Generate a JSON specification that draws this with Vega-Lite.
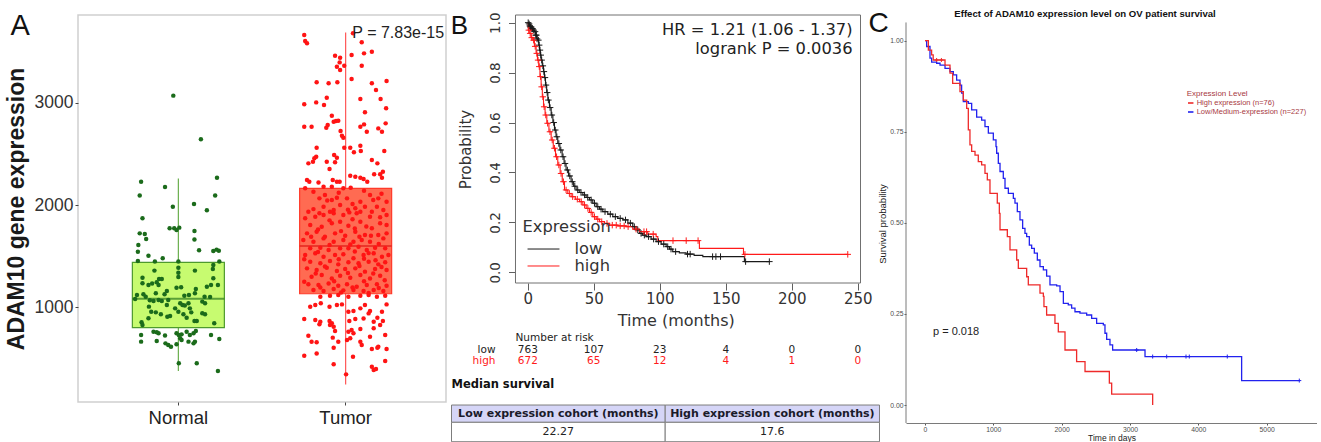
{
"$schema":"https://vega.github.io/schema/vega-lite/v6.json",
"background":"white",
"padding":{"left":4,"top":8,"right":0,"bottom":0},
"bounds":"flush",
"spacing":45,
"config":{"view":{"stroke":null},"axis":{"grid":false}},
"resolve":{"scale":{"color":"independent","stroke":"independent","fill":"independent"},"legend":{"color":"independent"}},
"datasets":{
"boxA":[{"g":"Normal","lo":378,"q1":801,"med":1085,"q3":1440,"hi":2260},{"g":"Tumor","lo":247,"q1":1133,"med":1599,"q3":2163,"hi":3687}],
"ptsA":[
{"g":"Normal","j":-0.11,"v":3069},{"g":"Normal","j":0.49,"v":2642},{"g":"Normal","j":-0.81,"v":2228},{"g":"Normal","j":0.84,"v":2267},{"g":"Normal","j":-0.29,"v":2176},{"g":"Normal","j":-0.84,"v":2092},{"g":"Normal","j":0.8,"v":2092},{"g":"Normal","j":-0.12,"v":1984},{"g":"Normal","j":0.34,"v":2010},{"g":"Normal","j":0.62,"v":1948},{"g":"Normal","j":-0.78,"v":1870},{"g":"Normal","j":-0.19,"v":1772},{"g":"Normal","j":-0.09,"v":1772},{"g":"Normal","j":-0.04,"v":1756},{"g":"Normal","j":0.02,"v":1779},{"g":"Normal","j":-0.84,"v":1723},{"g":"Normal","j":-0.73,"v":1717},{"g":"Normal","j":-0.7,"v":1668},{"g":"Normal","j":0.35,"v":1746},{"g":"Normal","j":0.35,"v":1662},{"g":"Normal","j":-0.87,"v":1609},{"g":"Normal","j":-0.88,"v":1544},{"g":"Normal","j":-0.65,"v":1505},{"g":"Normal","j":0.45,"v":1557},{"g":"Normal","j":0.76,"v":1551},{"g":"Normal","j":0.83,"v":1564},{"g":"Normal","j":0.88,"v":1554},{"g":"Normal","j":-0.34,"v":1479},{"g":"Normal","j":-0.88,"v":1453},{"g":"Normal","j":-0.51,"v":1447},{"g":"Normal","j":0,"v":1447},{"g":"Normal","j":0.89,"v":1447},{"g":"Normal","j":0.76,"v":1414},{"g":"Normal","j":0.75,"v":1375},{"g":"Normal","j":0,"v":1388},{"g":"Normal","j":-0.52,"v":1359},{"g":"Normal","j":-0.78,"v":1290},{"g":"Normal","j":-0.42,"v":1277},{"g":"Normal","j":-0.36,"v":1277},{"g":"Normal","j":0,"v":1339},{"g":"Normal","j":0,"v":1297},{"g":"Normal","j":0.36,"v":1359},{"g":"Normal","j":0.76,"v":1284},{"g":"Normal","j":-0.78,"v":1235},{"g":"Normal","j":-0.65,"v":1218},{"g":"Normal","j":-0.57,"v":1232},{"g":"Normal","j":-0.47,"v":1245},{"g":"Normal","j":-0.43,"v":1218},{"g":"Normal","j":-0.04,"v":1192},{"g":"Normal","j":0.06,"v":1196},{"g":"Normal","j":0.62,"v":1202},{"g":"Normal","j":0.71,"v":1218},{"g":"Normal","j":0.86,"v":1218},{"g":"Normal","j":0.38,"v":1179},{"g":"Normal","j":0.36,"v":1137},{"g":"Normal","j":-0.9,"v":1121},{"g":"Normal","j":-0.76,"v":1127},{"g":"Normal","j":-0.71,"v":1104},{"g":"Normal","j":-0.49,"v":1137},{"g":"Normal","j":-0.3,"v":1127},{"g":"Normal","j":-0.25,"v":1160},{"g":"Normal","j":0.13,"v":1114},{"g":"Normal","j":0.23,"v":1121},{"g":"Normal","j":0.57,"v":1104},{"g":"Normal","j":0.69,"v":1101},{"g":"Normal","j":-0.62,"v":1069},{"g":"Normal","j":-0.54,"v":1062},{"g":"Normal","j":-0.43,"v":1072},{"g":"Normal","j":-0.36,"v":1062},{"g":"Normal","j":-0.22,"v":1072},{"g":"Normal","j":-0.94,"v":1082},{"g":"Normal","j":0.52,"v":1056},{"g":"Normal","j":0.58,"v":1039},{"g":"Normal","j":0.04,"v":1039},{"g":"Normal","j":0.09,"v":1023},{"g":"Normal","j":0.14,"v":1017},{"g":"Normal","j":0.22,"v":1039},{"g":"Normal","j":-0.64,"v":1007},{"g":"Normal","j":-0.59,"v":958},{"g":"Normal","j":-0.25,"v":1023},{"g":"Normal","j":-0.07,"v":990},{"g":"Normal","j":0,"v":958},{"g":"Normal","j":0.25,"v":990},{"g":"Normal","j":0.28,"v":951},{"g":"Normal","j":-0.49,"v":951},{"g":"Normal","j":-0.38,"v":932},{"g":"Normal","j":0.52,"v":942},{"g":"Normal","j":0.58,"v":932},{"g":"Normal","j":-0.24,"v":909},{"g":"Normal","j":-0.18,"v":915},{"g":"Normal","j":-0.65,"v":893},{"g":"Normal","j":0.11,"v":932},{"g":"Normal","j":0.18,"v":899},{"g":"Normal","j":0.35,"v":867},{"g":"Normal","j":0.4,"v":867},{"g":"Normal","j":-0.8,"v":854},{"g":"Normal","j":-0.78,"v":828},{"g":"Normal","j":0.78,"v":844},{"g":"Normal","j":-0.54,"v":762},{"g":"Normal","j":-0.47,"v":756},{"g":"Normal","j":-0.43,"v":746},{"g":"Normal","j":-0.81,"v":730},{"g":"Normal","j":-0.29,"v":724},{"g":"Normal","j":-0.04,"v":746},{"g":"Normal","j":0.01,"v":730},{"g":"Normal","j":0.07,"v":736},{"g":"Normal","j":0.04,"v":697},{"g":"Normal","j":0.18,"v":762},{"g":"Normal","j":0.25,"v":730},{"g":"Normal","j":0.33,"v":746},{"g":"Normal","j":0.38,"v":769},{"g":"Normal","j":0.71,"v":730},{"g":"Normal","j":-0.81,"v":665},{"g":"Normal","j":-0.47,"v":671},{"g":"Normal","j":-0.28,"v":648},{"g":"Normal","j":-0.22,"v":632},{"g":"Normal","j":-0.16,"v":616},{"g":"Normal","j":-0.04,"v":639},{"g":"Normal","j":0.07,"v":681},{"g":"Normal","j":0.22,"v":665},{"g":"Normal","j":0.33,"v":648},{"g":"Normal","j":0.36,"v":665},{"g":"Normal","j":0.89,"v":691},{"g":"Normal","j":0.01,"v":453},{"g":"Normal","j":0.4,"v":453},{"g":"Normal","j":0.86,"v":378},
{"g":"Tumor","j":-0.9,"v":3661},{"g":"Tumor","j":-0.88,"v":3603},{"g":"Tumor","j":-0.84,"v":3580},{"g":"Tumor","j":0.16,"v":3678},{"g":"Tumor","j":0.35,"v":3590},{"g":"Tumor","j":-0.23,"v":3459},{"g":"Tumor","j":-0.12,"v":3440},{"g":"Tumor","j":0.13,"v":3466},{"g":"Tumor","j":0.4,"v":3482},{"g":"Tumor","j":0.57,"v":3498},{"g":"Tumor","j":-0.13,"v":3394},{"g":"Tumor","j":-0.19,"v":3352},{"g":"Tumor","j":-0.12,"v":3319},{"g":"Tumor","j":-0.03,"v":3362},{"g":"Tumor","j":0.35,"v":3362},{"g":"Tumor","j":-0.63,"v":3199},{"g":"Tumor","j":-0.37,"v":3189},{"g":"Tumor","j":-0.18,"v":3199},{"g":"Tumor","j":0.13,"v":3231},{"g":"Tumor","j":0.57,"v":3189},{"g":"Tumor","j":0.89,"v":3212},{"g":"Tumor","j":0.66,"v":3124},{"g":"Tumor","j":-0.41,"v":3049},{"g":"Tumor","j":-0.47,"v":2977},{"g":"Tumor","j":-0.64,"v":3003},{"g":"Tumor","j":-0.9,"v":2984},{"g":"Tumor","j":0.32,"v":3036},{"g":"Tumor","j":0.76,"v":3036},{"g":"Tumor","j":0.88,"v":2945},{"g":"Tumor","j":0.42,"v":2906},{"g":"Tumor","j":-0.3,"v":2873},{"g":"Tumor","j":-0.26,"v":2814},{"g":"Tumor","j":-0.21,"v":2821},{"g":"Tumor","j":-0.16,"v":2824},{"g":"Tumor","j":-0.39,"v":2782},{"g":"Tumor","j":-0.42,"v":2756},{"g":"Tumor","j":-0.9,"v":2765},{"g":"Tumor","j":-0.74,"v":2765},{"g":"Tumor","j":0.32,"v":2765},{"g":"Tumor","j":0.4,"v":2788},{"g":"Tumor","j":0.46,"v":2717},{"g":"Tumor","j":0.71,"v":2749},{"g":"Tumor","j":0.79,"v":2717},{"g":"Tumor","j":0.87,"v":2798},{"g":"Tumor","j":-0.11,"v":2723},{"g":"Tumor","j":-0.08,"v":2678},{"g":"Tumor","j":-0.05,"v":2658},{"g":"Tumor","j":-0.03,"v":2560},{"g":"Tumor","j":0.1,"v":2560},{"g":"Tumor","j":0.18,"v":2515},{"g":"Tumor","j":0.32,"v":2580},{"g":"Tumor","j":0.33,"v":2528},{"g":"Tumor","j":-0.63,"v":2560},{"g":"Tumor","j":-0.64,"v":2472},{"g":"Tumor","j":-0.68,"v":2456},{"g":"Tumor","j":-0.71,"v":2423},{"g":"Tumor","j":-0.25,"v":2489},{"g":"Tumor","j":-0.19,"v":2463},{"g":"Tumor","j":-0.23,"v":2417},{"g":"Tumor","j":-0.41,"v":2423},{"g":"Tumor","j":-0.35,"v":2352},{"g":"Tumor","j":-0.81,"v":2407},{"g":"Tumor","j":0.57,"v":2440},{"g":"Tumor","j":0.69,"v":2407},{"g":"Tumor","j":0.84,"v":2528},{"g":"Tumor","j":0.1,"v":2287},{"g":"Tumor","j":0.21,"v":2277},{"g":"Tumor","j":0.32,"v":2267},{"g":"Tumor","j":0.39,"v":2254},{"g":"Tumor","j":0.47,"v":2228},{"g":"Tumor","j":0.75,"v":2300},{"g":"Tumor","j":0.81,"v":2326},{"g":"Tumor","j":0.79,"v":2267},{"g":"Tumor","j":0.62,"v":2300},{"g":"Tumor","j":-0.84,"v":2244},{"g":"Tumor","j":-0.79,"v":2228},{"g":"Tumor","j":-0.59,"v":2221},{"g":"Tumor","j":-0.28,"v":2244},{"g":"Tumor","j":-0.19,"v":2228},{"g":"Tumor","j":-0.13,"v":2228},{"g":"Tumor","j":-0.88,"v":2163},{"g":"Tumor","j":-0.48,"v":2179},{"g":"Tumor","j":-0.3,"v":2179},{"g":"Tumor","j":-0.05,"v":2163},{"g":"Tumor","j":0.11,"v":2169},{"g":"Tumor","j":-0.57,"v":2065},{"g":"Tumor","j":-0.45,"v":2098},{"g":"Tumor","j":-0.3,"v":2049},{"g":"Tumor","j":-0.19,"v":2072},{"g":"Tumor","j":0.03,"v":2065},{"g":"Tumor","j":0.32,"v":2032},{"g":"Tumor","j":0.53,"v":2098},{"g":"Tumor","j":0.71,"v":2065},{"g":"Tumor","j":0.89,"v":2032},{"g":"Tumor","j":-0.48,"v":1984},{"g":"Tumor","j":-0.26,"v":1951},{"g":"Tumor","j":-0.12,"v":2000},{"g":"Tumor","j":0.21,"v":1968},{"g":"Tumor","j":0.42,"v":1984},{"g":"Tumor","j":0.68,"v":1984},{"g":"Tumor","j":-0.81,"v":1935},{"g":"Tumor","j":-0.57,"v":1919},{"g":"Tumor","j":-0.34,"v":1935},{"g":"Tumor","j":0.08,"v":1928},{"g":"Tumor","j":0.32,"v":1935},{"g":"Tumor","j":0.57,"v":1935},{"g":"Tumor","j":0.82,"v":1951},
{"g":"Tumor","j":-0.88,"v":1870},{"g":"Tumor","j":-0.66,"v":1886},{"g":"Tumor","j":-0.48,"v":1902},{"g":"Tumor","j":-0.26,"v":1919},{"g":"Tumor","j":-0.05,"v":1902},{"g":"Tumor","j":0.24,"v":1919},{"g":"Tumor","j":0.53,"v":1886},{"g":"Tumor","j":0.89,"v":1902},{"g":"Tumor","j":-0.77,"v":1805},{"g":"Tumor","j":-0.52,"v":1788},{"g":"Tumor","j":-0.3,"v":1821},{"g":"Tumor","j":-0.12,"v":1837},{"g":"Tumor","j":0.06,"v":1798},{"g":"Tumor","j":0.32,"v":1837},{"g":"Tumor","j":0.57,"v":1772},{"g":"Tumor","j":0.75,"v":1821},{"g":"Tumor","j":0.89,"v":1805},{"g":"Tumor","j":-0.84,"v":1723},{"g":"Tumor","j":-0.63,"v":1739},{"g":"Tumor","j":-0.45,"v":1691},{"g":"Tumor","j":-0.23,"v":1723},{"g":"Tumor","j":-0.01,"v":1700},{"g":"Tumor","j":0.21,"v":1739},{"g":"Tumor","j":0.42,"v":1707},{"g":"Tumor","j":0.71,"v":1707},{"g":"Tumor","j":0.89,"v":1723},{"g":"Tumor","j":-0.92,"v":1658},{"g":"Tumor","j":-0.7,"v":1642},{"g":"Tumor","j":-0.48,"v":1674},{"g":"Tumor","j":-0.26,"v":1642},{"g":"Tumor","j":-0.05,"v":1658},{"g":"Tumor","j":0.17,"v":1642},{"g":"Tumor","j":0.35,"v":1658},{"g":"Tumor","j":0.53,"v":1642},{"g":"Tumor","j":0.82,"v":1674},{"g":"Tumor","j":-0.77,"v":1577},{"g":"Tumor","j":-0.55,"v":1583},{"g":"Tumor","j":-0.37,"v":1560},{"g":"Tumor","j":-0.12,"v":1577},{"g":"Tumor","j":0.06,"v":1577},{"g":"Tumor","j":0.28,"v":1593},{"g":"Tumor","j":0.46,"v":1560},{"g":"Tumor","j":0.64,"v":1583},{"g":"Tumor","j":0.86,"v":1577},{"g":"Tumor","j":-0.88,"v":1511},{"g":"Tumor","j":-0.66,"v":1528},{"g":"Tumor","j":-0.48,"v":1495},{"g":"Tumor","j":-0.23,"v":1511},{"g":"Tumor","j":-0.05,"v":1518},{"g":"Tumor","j":0.17,"v":1479},{"g":"Tumor","j":0.39,"v":1511},{"g":"Tumor","j":0.61,"v":1528},{"g":"Tumor","j":0.79,"v":1495},{"g":"Tumor","j":0.93,"v":1511},{"g":"Tumor","j":-0.77,"v":1446},{"g":"Tumor","j":-0.55,"v":1430},{"g":"Tumor","j":-0.34,"v":1453},{"g":"Tumor","j":-0.16,"v":1420},{"g":"Tumor","j":0.06,"v":1440},{"g":"Tumor","j":0.28,"v":1430},{"g":"Tumor","j":0.5,"v":1446},{"g":"Tumor","j":0.71,"v":1420},{"g":"Tumor","j":0.86,"v":1440},{"g":"Tumor","j":-0.84,"v":1381},{"g":"Tumor","j":-0.63,"v":1365},{"g":"Tumor","j":-0.41,"v":1388},{"g":"Tumor","j":-0.19,"v":1355},{"g":"Tumor","j":-0.01,"v":1375},{"g":"Tumor","j":0.21,"v":1381},{"g":"Tumor","j":0.42,"v":1349},{"g":"Tumor","j":0.64,"v":1375},{"g":"Tumor","j":0.89,"v":1365},{"g":"Tumor","j":-0.74,"v":1300},{"g":"Tumor","j":-0.52,"v":1316},{"g":"Tumor","j":-0.3,"v":1283},{"g":"Tumor","j":-0.12,"v":1309},{"g":"Tumor","j":0.1,"v":1290},{"g":"Tumor","j":0.32,"v":1316},{"g":"Tumor","j":0.53,"v":1283},{"g":"Tumor","j":0.75,"v":1309},{"g":"Tumor","j":-0.81,"v":1225},{"g":"Tumor","j":-0.59,"v":1218},{"g":"Tumor","j":-0.37,"v":1234},{"g":"Tumor","j":-0.16,"v":1212},{"g":"Tumor","j":0.03,"v":1225},{"g":"Tumor","j":0.24,"v":1202},{"g":"Tumor","j":0.46,"v":1218},{"g":"Tumor","j":0.68,"v":1225},{"g":"Tumor","j":0.89,"v":1212},{"g":"Tumor","j":-0.7,"v":1169},{"g":"Tumor","j":-0.48,"v":1160},{"g":"Tumor","j":-0.26,"v":1179},{"g":"Tumor","j":-0.05,"v":1166},{"g":"Tumor","j":0.17,"v":1169},{"g":"Tumor","j":0.39,"v":1160},{"g":"Tumor","j":0.61,"v":1169},{"g":"Tumor","j":0.82,"v":1160},
{"g":"Tumor","j":-0.7,"v":2130},{"g":"Tumor","j":-0.15,"v":2120},{"g":"Tumor","j":0.4,"v":2140},{"g":"Tumor","j":0.78,"v":2110},{"g":"Tumor","j":-0.4,"v":2045},{"g":"Tumor","j":0.15,"v":2010},{"g":"Tumor","j":0.6,"v":2050},{"g":"Tumor","j":-0.7,"v":1960},{"g":"Tumor","j":0.05,"v":1955},{"g":"Tumor","j":0.75,"v":1880},{"g":"Tumor","j":-0.35,"v":1850},{"g":"Tumor","j":0.15,"v":1860},{"g":"Tumor","j":-0.6,"v":1760},{"g":"Tumor","j":0.45,"v":1790},{"g":"Tumor","j":0.2,"v":1770},{"g":"Tumor","j":-0.1,"v":1745},{"g":"Tumor","j":-0.75,"v":1690},{"g":"Tumor","j":0.3,"v":1690},{"g":"Tumor","j":0.55,"v":1700},{"g":"Tumor","j":-0.35,"v":1610},{"g":"Tumor","j":0.1,"v":1615},{"g":"Tumor","j":0.72,"v":1620},{"g":"Tumor","j":-0.6,"v":1540},{"g":"Tumor","j":0.2,"v":1545},{"g":"Tumor","j":0.5,"v":1530},{"g":"Tumor","j":-0.15,"v":1470},{"g":"Tumor","j":0.4,"v":1475},{"g":"Tumor","j":-0.9,"v":1470},{"g":"Tumor","j":0.65,"v":1460},{"g":"Tumor","j":-0.45,"v":1400},{"g":"Tumor","j":0.3,"v":1405},{"g":"Tumor","j":0.78,"v":1395},{"g":"Tumor","j":-0.65,"v":1330},{"g":"Tumor","j":0.05,"v":1335},{"g":"Tumor","j":0.6,"v":1330},{"g":"Tumor","j":-0.25,"v":1255},{"g":"Tumor","j":0.4,"v":1255},{"g":"Tumor","j":0.85,"v":1265},{"g":"Tumor","j":-0.9,"v":1250},{"g":"Tumor","j":-0.55,"v":1195},{"g":"Tumor","j":0.15,"v":1195},{"g":"Tumor","j":0.72,"v":1190},{"g":"Tumor","j":-0.1,"v":1145},{"g":"Tumor","j":0.5,"v":1140},
{"g":"Tumor","j":-0.55,"v":1104},{"g":"Tumor","j":-0.34,"v":1114},{"g":"Tumor","j":-0.16,"v":1120},{"g":"Tumor","j":0.06,"v":1104},{"g":"Tumor","j":0.32,"v":1114},{"g":"Tumor","j":0.5,"v":1120},{"g":"Tumor","j":0.68,"v":1104},{"g":"Tumor","j":0.86,"v":1114},{"g":"Tumor","j":-0.77,"v":1006},{"g":"Tumor","j":-0.66,"v":1023},{"g":"Tumor","j":-0.54,"v":1039},{"g":"Tumor","j":-0.35,"v":1006},{"g":"Tumor","j":-0.19,"v":1023},{"g":"Tumor","j":-0.08,"v":1029},{"g":"Tumor","j":0.06,"v":958},{"g":"Tumor","j":0.17,"v":964},{"g":"Tumor","j":0.32,"v":990},{"g":"Tumor","j":0.42,"v":1023},{"g":"Tumor","j":0.53,"v":964},{"g":"Tumor","j":0.79,"v":958},{"g":"Tumor","j":0.89,"v":1029},{"g":"Tumor","j":-0.9,"v":886},{"g":"Tumor","j":-0.66,"v":876},{"g":"Tumor","j":-0.55,"v":860},{"g":"Tumor","j":-0.35,"v":866},{"g":"Tumor","j":-0.3,"v":844},{"g":"Tumor","j":-0.26,"v":811},{"g":"Tumor","j":0.08,"v":866},{"g":"Tumor","j":0.21,"v":886},{"g":"Tumor","j":0.39,"v":892},{"g":"Tumor","j":0.5,"v":941},{"g":"Tumor","j":0.61,"v":860},{"g":"Tumor","j":0.69,"v":899},{"g":"Tumor","j":0.81,"v":866},{"g":"Tumor","j":-0.57,"v":834},{"g":"Tumor","j":-0.34,"v":827},{"g":"Tumor","j":-0.23,"v":769},{"g":"Tumor","j":0.06,"v":762},{"g":"Tumor","j":0.13,"v":778},{"g":"Tumor","j":0.17,"v":746},{"g":"Tumor","j":0.32,"v":788},{"g":"Tumor","j":0.61,"v":795},{"g":"Tumor","j":0.75,"v":827},{"g":"Tumor","j":-0.81,"v":723},{"g":"Tumor","j":-0.74,"v":664},{"g":"Tumor","j":-0.63,"v":658},{"g":"Tumor","j":-0.28,"v":704},{"g":"Tumor","j":-0.16,"v":664},{"g":"Tumor","j":0.03,"v":681},{"g":"Tumor","j":0.1,"v":697},{"g":"Tumor","j":0.32,"v":664},{"g":"Tumor","j":0.35,"v":632},{"g":"Tumor","j":0.53,"v":713},{"g":"Tumor","j":0.71,"v":616},{"g":"Tumor","j":0.86,"v":730},{"g":"Tumor","j":0.89,"v":593},{"g":"Tumor","j":-0.9,"v":528},{"g":"Tumor","j":-0.63,"v":550},{"g":"Tumor","j":-0.26,"v":606},{"g":"Tumor","j":0.16,"v":518},{"g":"Tumor","j":0.57,"v":593},{"g":"Tumor","j":0.69,"v":606},{"g":"Tumor","j":-0.26,"v":443},{"g":"Tumor","j":0.57,"v":420},{"g":"Tumor","j":0.61,"v":388},{"g":"Tumor","j":0.66,"v":397},{"g":"Tumor","j":0.86,"v":475},{"g":"Tumor","j":0.01,"v":345}
],
"kmB":[
{"grp":"low","t":0,"s":1},{"grp":"low","t":0.5,"s":0.995},{"grp":"low","t":1.3,"s":0.987},{"grp":"low","t":2,"s":0.983},{"grp":"low","t":3,"s":0.976},{"grp":"low","t":4,"s":0.97},{"grp":"low","t":5.1,"s":0.964},{"grp":"low","t":6,"s":0.95},{"grp":"low","t":7,"s":0.935},{"grp":"low","t":7.6,"s":0.93},{"grp":"low","t":8.3,"s":0.91},{"grp":"low","t":8.9,"s":0.89},{"grp":"low","t":9.5,"s":0.87},{"grp":"low","t":10.1,"s":0.85},{"grp":"low","t":11,"s":0.827},{"grp":"low","t":11.9,"s":0.804},{"grp":"low","t":12.6,"s":0.78},{"grp":"low","t":13.4,"s":0.75},{"grp":"low","t":14.3,"s":0.72},{"grp":"low","t":15.2,"s":0.69},{"grp":"low","t":16.4,"s":0.66},{"grp":"low","t":17.7,"s":0.63},{"grp":"low","t":19,"s":0.6},{"grp":"low","t":20.2,"s":0.57},{"grp":"low","t":21.4,"s":0.543},{"grp":"low","t":22.7,"s":0.516},{"grp":"low","t":24.3,"s":0.49},{"grp":"low","t":26,"s":0.463},{"grp":"low","t":27.5,"s":0.436},{"grp":"low","t":29,"s":0.41},{"grp":"low","t":30.9,"s":0.386},{"grp":"low","t":32.8,"s":0.363},{"grp":"low","t":34.7,"s":0.345},{"grp":"low","t":36.6,"s":0.33},{"grp":"low","t":39,"s":0.32},{"grp":"low","t":41.7,"s":0.31},{"grp":"low","t":44.2,"s":0.3},{"grp":"low","t":46.7,"s":0.29},{"grp":"low","t":49.2,"s":0.277},{"grp":"low","t":51.8,"s":0.263},{"grp":"low","t":54.3,"s":0.253},{"grp":"low","t":56.8,"s":0.243},{"grp":"low","t":60.6,"s":0.233},{"grp":"low","t":64.4,"s":0.223},{"grp":"low","t":68.2,"s":0.216},{"grp":"low","t":72,"s":0.21},{"grp":"low","t":75.8,"s":0.197},{"grp":"low","t":79.5,"s":0.183},{"grp":"low","t":82,"s":0.17},{"grp":"low","t":84.6,"s":0.156},{"grp":"low","t":87,"s":0.149},{"grp":"low","t":89.6,"s":0.143},{"grp":"low","t":93.4,"s":0.133},{"grp":"low","t":97.2,"s":0.123},{"grp":"low","t":101,"s":0.113},{"grp":"low","t":104.8,"s":0.103},{"grp":"low","t":107.3,"s":0.093},{"grp":"low","t":109.8,"s":0.083},{"grp":"low","t":114.8,"s":0.078},{"grp":"low","t":119.9,"s":0.073},{"grp":"low","t":126,"s":0.068},{"grp":"low","t":132.6,"s":0.063},{"grp":"low","t":164.1,"s":0.043},{"grp":"low","t":183.1,"s":0.043},
{"grp":"high","t":0,"s":1},{"grp":"high","t":0.3,"s":0.97},{"grp":"high","t":1,"s":0.957},{"grp":"high","t":2.5,"s":0.94},{"grp":"high","t":3.8,"s":0.93},{"grp":"high","t":5,"s":0.905},{"grp":"high","t":6.3,"s":0.877},{"grp":"high","t":7.3,"s":0.85},{"grp":"high","t":8.3,"s":0.824},{"grp":"high","t":9.2,"s":0.784},{"grp":"high","t":10.1,"s":0.743},{"grp":"high","t":11,"s":0.703},{"grp":"high","t":11.9,"s":0.663},{"grp":"high","t":13.1,"s":0.63},{"grp":"high","t":14.4,"s":0.597},{"grp":"high","t":16,"s":0.563},{"grp":"high","t":17.7,"s":0.53},{"grp":"high","t":19.3,"s":0.497},{"grp":"high","t":21,"s":0.463},{"grp":"high","t":22.7,"s":0.43},{"grp":"high","t":24.5,"s":0.396},{"grp":"high","t":26.1,"s":0.363},{"grp":"high","t":27.8,"s":0.33},{"grp":"high","t":30.3,"s":0.316},{"grp":"high","t":32.8,"s":0.303},{"grp":"high","t":36,"s":0.293},{"grp":"high","t":39.2,"s":0.283},{"grp":"high","t":41.7,"s":0.27},{"grp":"high","t":44.2,"s":0.256},{"grp":"high","t":46.7,"s":0.24},{"grp":"high","t":49.2,"s":0.223},{"grp":"high","t":51.8,"s":0.213},{"grp":"high","t":54.3,"s":0.203},{"grp":"high","t":58.1,"s":0.196},{"grp":"high","t":61.9,"s":0.189},{"grp":"high","t":68.2,"s":0.186},{"grp":"high","t":74.5,"s":0.183},{"grp":"high","t":79.5,"s":0.173},{"grp":"high","t":84.6,"s":0.163},{"grp":"high","t":90.9,"s":0.153},{"grp":"high","t":97.2,"s":0.143},{"grp":"high","t":98.5,"s":0.127},{"grp":"high","t":130,"s":0.096},{"grp":"high","t":163.4,"s":0.072},{"grp":"high","t":242.4,"s":0.072}
],
"cenB":[
{"grp":"low","t":0.3,"s":1},{"grp":"low","t":1,"s":0.995},{"grp":"low","t":1.5,"s":0.987},{"grp":"low","t":2,"s":0.983},{"grp":"low","t":2.5,"s":0.983},{"grp":"low","t":3,"s":0.976},{"grp":"low","t":3.5,"s":0.976},{"grp":"low","t":4.5,"s":0.97},{"grp":"low","t":5.5,"s":0.964},{"grp":"low","t":6,"s":0.95},{"grp":"low","t":6.5,"s":0.95},{"grp":"low","t":7,"s":0.935},{"grp":"low","t":8,"s":0.93},{"grp":"low","t":8.6,"s":0.91},{"grp":"low","t":9.2,"s":0.89},{"grp":"low","t":9.8,"s":0.87},{"grp":"low","t":10.5,"s":0.85},{"grp":"low","t":11.4,"s":0.827},{"grp":"low","t":12.2,"s":0.804},{"grp":"low","t":13,"s":0.78},{"grp":"low","t":13.8,"s":0.75},{"grp":"low","t":14.7,"s":0.72},{"grp":"low","t":15.6,"s":0.69},{"grp":"low","t":16.9,"s":0.66},{"grp":"low","t":18.2,"s":0.63},{"grp":"low","t":19.6,"s":0.6},{"grp":"low","t":20.8,"s":0.57},{"grp":"low","t":22,"s":0.543},{"grp":"low","t":23.5,"s":0.516},{"grp":"low","t":25,"s":0.49},{"grp":"low","t":26.7,"s":0.463},{"grp":"low","t":28.2,"s":0.436},{"grp":"low","t":30,"s":0.41},{"grp":"low","t":31.8,"s":0.386},{"grp":"low","t":33.7,"s":0.363},{"grp":"low","t":35.6,"s":0.345},{"grp":"low","t":37.8,"s":0.33},{"grp":"low","t":40.3,"s":0.32},{"grp":"low","t":43,"s":0.31},{"grp":"low","t":45.4,"s":0.3},{"grp":"low","t":48,"s":0.29},{"grp":"low","t":50.5,"s":0.277},{"grp":"low","t":53,"s":0.263},{"grp":"low","t":55.5,"s":0.253},{"grp":"low","t":58.5,"s":0.243},{"grp":"low","t":62.5,"s":0.233},{"grp":"low","t":66.3,"s":0.223},{"grp":"low","t":70,"s":0.216},{"grp":"low","t":74,"s":0.21},{"grp":"low","t":77.7,"s":0.197},{"grp":"low","t":80.7,"s":0.183},{"grp":"low","t":83.3,"s":0.17},{"grp":"low","t":85.8,"s":0.156},{"grp":"low","t":88.3,"s":0.149},{"grp":"low","t":91.5,"s":0.143},{"grp":"low","t":95.3,"s":0.133},{"grp":"low","t":99,"s":0.123},{"grp":"low","t":103,"s":0.113},{"grp":"low","t":106,"s":0.103},{"grp":"low","t":108.5,"s":0.093},{"grp":"low","t":112,"s":0.083},{"grp":"low","t":121,"s":0.073},{"grp":"low","t":123,"s":0.073},{"grp":"low","t":140,"s":0.063},{"grp":"low","t":142.5,"s":0.063},{"grp":"low","t":146,"s":0.063},{"grp":"low","t":165,"s":0.043},{"grp":"low","t":183,"s":0.043},
{"grp":"high","t":0.8,"s":0.97},{"grp":"high","t":1.8,"s":0.957},{"grp":"high","t":3,"s":0.94},{"grp":"high","t":4.4,"s":0.93},{"grp":"high","t":5.6,"s":0.905},{"grp":"high","t":6.8,"s":0.877},{"grp":"high","t":7.8,"s":0.85},{"grp":"high","t":8.7,"s":0.824},{"grp":"high","t":9.6,"s":0.784},{"grp":"high","t":10.5,"s":0.743},{"grp":"high","t":11.4,"s":0.703},{"grp":"high","t":12.4,"s":0.663},{"grp":"high","t":13.6,"s":0.63},{"grp":"high","t":15,"s":0.597},{"grp":"high","t":16.8,"s":0.563},{"grp":"high","t":18.5,"s":0.53},{"grp":"high","t":20.2,"s":0.497},{"grp":"high","t":21.8,"s":0.463},{"grp":"high","t":23.5,"s":0.43},{"grp":"high","t":25.2,"s":0.396},{"grp":"high","t":27,"s":0.363},{"grp":"high","t":29,"s":0.33},{"grp":"high","t":31.5,"s":0.316},{"grp":"high","t":34,"s":0.303},{"grp":"high","t":37.5,"s":0.293},{"grp":"high","t":40.5,"s":0.283},{"grp":"high","t":43,"s":0.27},{"grp":"high","t":45.5,"s":0.256},{"grp":"high","t":48,"s":0.24},{"grp":"high","t":50.5,"s":0.223},{"grp":"high","t":53,"s":0.213},{"grp":"high","t":56,"s":0.203},{"grp":"high","t":60,"s":0.196},{"grp":"high","t":64,"s":0.189},{"grp":"high","t":67,"s":0.189},{"grp":"high","t":70,"s":0.186},{"grp":"high","t":73,"s":0.186},{"grp":"high","t":76,"s":0.183},{"grp":"high","t":82,"s":0.173},{"grp":"high","t":88,"s":0.163},{"grp":"high","t":90,"s":0.163},{"grp":"high","t":95,"s":0.153},{"grp":"high","t":110,"s":0.127},{"grp":"high","t":120,"s":0.127},{"grp":"high","t":129,"s":0.127},{"grp":"high","t":164.5,"s":0.072},{"grp":"high","t":242.4,"s":0.072}
],
"riskB":[{"grp":"low","t":0,"n":"763"},{"grp":"low","t":50,"n":"107"},{"grp":"low","t":100,"n":"23"},{"grp":"low","t":150,"n":"4"},{"grp":"low","t":200,"n":"0"},{"grp":"low","t":250,"n":"0"},{"grp":"high","t":0,"n":"672"},{"grp":"high","t":50,"n":"65"},{"grp":"high","t":100,"n":"12"},{"grp":"high","t":150,"n":"4"},{"grp":"high","t":200,"n":"1"},{"grp":"high","t":250,"n":"0"}],
"medB":[{"cohort":"Low expression cohort (months)","median":"22.27"},{"cohort":"High expression cohort (months)","median":"17.6"}],
"kmC":[
{"lvl":"Low/Medium-expression (n=227)","d":0,"s":1},{"lvl":"Low/Medium-expression (n=227)","d":24,"s":0.984},{"lvl":"Low/Medium-expression (n=227)","d":73,"s":0.952},{"lvl":"Low/Medium-expression (n=227)","d":97,"s":0.941},{"lvl":"Low/Medium-expression (n=227)","d":171,"s":0.938},{"lvl":"Low/Medium-expression (n=227)","d":220,"s":0.933},{"lvl":"Low/Medium-expression (n=227)","d":293,"s":0.924},{"lvl":"Low/Medium-expression (n=227)","d":366,"s":0.915},{"lvl":"Low/Medium-expression (n=227)","d":415,"s":0.906},{"lvl":"Low/Medium-expression (n=227)","d":463,"s":0.892},{"lvl":"Low/Medium-expression (n=227)","d":512,"s":0.878},{"lvl":"Low/Medium-expression (n=227)","d":536,"s":0.856},{"lvl":"Low/Medium-expression (n=227)","d":561,"s":0.833},{"lvl":"Low/Medium-expression (n=227)","d":634,"s":0.828},{"lvl":"Low/Medium-expression (n=227)","d":683,"s":0.81},{"lvl":"Low/Medium-expression (n=227)","d":756,"s":0.79},{"lvl":"Low/Medium-expression (n=227)","d":829,"s":0.782},{"lvl":"Low/Medium-expression (n=227)","d":878,"s":0.764},{"lvl":"Low/Medium-expression (n=227)","d":927,"s":0.746},{"lvl":"Low/Medium-expression (n=227)","d":1000,"s":0.728},{"lvl":"Low/Medium-expression (n=227)","d":1039,"s":0.709},{"lvl":"Low/Medium-expression (n=227)","d":1049,"s":0.691},{"lvl":"Low/Medium-expression (n=227)","d":1073,"s":0.663},{"lvl":"Low/Medium-expression (n=227)","d":1098,"s":0.641},{"lvl":"Low/Medium-expression (n=227)","d":1146,"s":0.622},{"lvl":"Low/Medium-expression (n=227)","d":1171,"s":0.595},{"lvl":"Low/Medium-expression (n=227)","d":1220,"s":0.581},{"lvl":"Low/Medium-expression (n=227)","d":1293,"s":0.567},{"lvl":"Low/Medium-expression (n=227)","d":1317,"s":0.554},{"lvl":"Low/Medium-expression (n=227)","d":1351,"s":0.531},{"lvl":"Low/Medium-expression (n=227)","d":1390,"s":0.508},{"lvl":"Low/Medium-expression (n=227)","d":1429,"s":0.485},{"lvl":"Low/Medium-expression (n=227)","d":1463,"s":0.471},{"lvl":"Low/Medium-expression (n=227)","d":1488,"s":0.462},{"lvl":"Low/Medium-expression (n=227)","d":1527,"s":0.439},{"lvl":"Low/Medium-expression (n=227)","d":1561,"s":0.43},{"lvl":"Low/Medium-expression (n=227)","d":1600,"s":0.417},{"lvl":"Low/Medium-expression (n=227)","d":1644,"s":0.398},{"lvl":"Low/Medium-expression (n=227)","d":1683,"s":0.38},{"lvl":"Low/Medium-expression (n=227)","d":1732,"s":0.371},{"lvl":"Low/Medium-expression (n=227)","d":1780,"s":0.354},{"lvl":"Low/Medium-expression (n=227)","d":1829,"s":0.33},{"lvl":"Low/Medium-expression (n=227)","d":1927,"s":0.327},{"lvl":"Low/Medium-expression (n=227)","d":1976,"s":0.311},{"lvl":"Low/Medium-expression (n=227)","d":2025,"s":0.279},{"lvl":"Low/Medium-expression (n=227)","d":2097,"s":0.275},{"lvl":"Low/Medium-expression (n=227)","d":2146,"s":0.266},{"lvl":"Low/Medium-expression (n=227)","d":2195,"s":0.256},{"lvl":"Low/Medium-expression (n=227)","d":2268,"s":0.252},{"lvl":"Low/Medium-expression (n=227)","d":2366,"s":0.247},{"lvl":"Low/Medium-expression (n=227)","d":2439,"s":0.238},{"lvl":"Low/Medium-expression (n=227)","d":2512,"s":0.224},{"lvl":"Low/Medium-expression (n=227)","d":2610,"s":0.22},{"lvl":"Low/Medium-expression (n=227)","d":2634,"s":0.197},{"lvl":"Low/Medium-expression (n=227)","d":2659,"s":0.18},{"lvl":"Low/Medium-expression (n=227)","d":2707,"s":0.165},{"lvl":"Low/Medium-expression (n=227)","d":2746,"s":0.151},{"lvl":"Low/Medium-expression (n=227)","d":3220,"s":0.133},{"lvl":"Low/Medium-expression (n=227)","d":4634,"s":0.067},{"lvl":"Low/Medium-expression (n=227)","d":5478,"s":0.067},
{"lvl":"High expression (n=76)","d":0,"s":1},{"lvl":"High expression (n=76)","d":49,"s":0.974},{"lvl":"High expression (n=76)","d":97,"s":0.961},{"lvl":"High expression (n=76)","d":120,"s":0.947},{"lvl":"High expression (n=76)","d":293,"s":0.933},{"lvl":"High expression (n=76)","d":366,"s":0.911},{"lvl":"High expression (n=76)","d":405,"s":0.883},{"lvl":"High expression (n=76)","d":512,"s":0.86},{"lvl":"High expression (n=76)","d":561,"s":0.837},{"lvl":"High expression (n=76)","d":610,"s":0.814},{"lvl":"High expression (n=76)","d":634,"s":0.755},{"lvl":"High expression (n=76)","d":658,"s":0.714},{"lvl":"High expression (n=76)","d":683,"s":0.696},{"lvl":"High expression (n=76)","d":732,"s":0.686},{"lvl":"High expression (n=76)","d":780,"s":0.668},{"lvl":"High expression (n=76)","d":829,"s":0.659},{"lvl":"High expression (n=76)","d":878,"s":0.636},{"lvl":"High expression (n=76)","d":912,"s":0.618},{"lvl":"High expression (n=76)","d":951,"s":0.581},{"lvl":"High expression (n=76)","d":1058,"s":0.554},{"lvl":"High expression (n=76)","d":1088,"s":0.526},{"lvl":"High expression (n=76)","d":1098,"s":0.481},{"lvl":"High expression (n=76)","d":1205,"s":0.462},{"lvl":"High expression (n=76)","d":1244,"s":0.426},{"lvl":"High expression (n=76)","d":1342,"s":0.398},{"lvl":"High expression (n=76)","d":1366,"s":0.375},{"lvl":"High expression (n=76)","d":1488,"s":0.352},{"lvl":"High expression (n=76)","d":1512,"s":0.33},{"lvl":"High expression (n=76)","d":1683,"s":0.307},{"lvl":"High expression (n=76)","d":1732,"s":0.298},{"lvl":"High expression (n=76)","d":1741,"s":0.27},{"lvl":"High expression (n=76)","d":1780,"s":0.247},{"lvl":"High expression (n=76)","d":1902,"s":0.224},{"lvl":"High expression (n=76)","d":1951,"s":0.201},{"lvl":"High expression (n=76)","d":2049,"s":0.151},{"lvl":"High expression (n=76)","d":2219,"s":0.119},{"lvl":"High expression (n=76)","d":2342,"s":0.092},{"lvl":"High expression (n=76)","d":2698,"s":0.06},{"lvl":"High expression (n=76)","d":2732,"s":0.03},{"lvl":"High expression (n=76)","d":3332,"s":0}
],
"cenC":[{"lvl":"Low/Medium-expression (n=227)","d":3098,"s":0.151},{"lvl":"Low/Medium-expression (n=227)","d":3332,"s":0.133},{"lvl":"Low/Medium-expression (n=227)","d":3537,"s":0.133},{"lvl":"Low/Medium-expression (n=227)","d":3820,"s":0.133},{"lvl":"Low/Medium-expression (n=227)","d":3868,"s":0.133},{"lvl":"Low/Medium-expression (n=227)","d":4424,"s":0.133},{"lvl":"Low/Medium-expression (n=227)","d":5478,"s":0.067},{"lvl":"High expression (n=76)","d":170,"s":0.947},{"lvl":"High expression (n=76)","d":240,"s":0.947}]
},
"hconcat":[
{
"width":368,"height":387,
"view":{"stroke":"#cfcfcf","strokeWidth":1.5},
"title":{"text":"A","anchor":"start","frame":"group","dx":-67.5,"offset":-26.1,"fontSize":29,"fontWeight":"normal","font":"Liberation Sans","color":"#111111"},
"resolve":{"scale":{"stroke":"independent","fill":"independent","color":"independent","xOffset":"independent"}},
"layer":[
{"data":{"name":"boxA"},"mark":{"type":"rule","strokeWidth":1.2},
"encoding":{
"x":{"field":"g","type":"nominal","title":null,"scale":{"domain":["Normal","Tumor"],"paddingInner":0.45,"paddingOuter":0.325},"axis":{"title":null,"labelAngle":0,"labelFont":"Liberation Sans","labelFontSize":18.5,"labelColor":"#222222","tickSize":3,"tickColor":"#444444","domain":false,"labelPadding":3}},
"y":{"field":"lo","type":"quantitative","title":"ADAM10 gene expression","scale":{"domain":[75,3857],"nice":false,"zero":false},"axis":{"title":"ADAM10 gene expression","values":[1000,2000,3000],"format":"d","titleFont":"Liberation Sans","titleFontSize":23,"titleFontWeight":"bold","titleColor":"#1a1a1a","titlePadding":6,"labelFont":"Liberation Sans","labelFontSize":17.5,"labelColor":"#333333","tickSize":3,"tickColor":"#444444","labelPadding":2,"domain":false}},
"y2":{"field":"hi"},
"stroke":{"field":"g","type":"nominal","scale":{"domain":["Normal","Tumor"],"range":["#6aae4d","#ff5555"]},"legend":null}}},
{"data":{"name":"boxA"},"mark":{"type":"bar","strokeWidth":1.2,"fillOpacity":1,"width":{"band":1}},
"encoding":{
"x":{"field":"g","type":"nominal","title":null},
"y":{"field":"q1","type":"quantitative","title":"ADAM10 gene expression"},"y2":{"field":"q3"},
"fill":{"field":"g","type":"nominal","scale":{"domain":["Normal","Tumor"],"range":["#c7fb70","#ff6b52"]},"legend":null},
"stroke":{"field":"g","type":"nominal","scale":{"domain":["Normal","Tumor"],"range":["#4e9a2e","#ff3a2a"]},"legend":null}}},
{"data":{"name":"boxA"},"mark":{"type":"tick","thickness":2,"size":92,"orient":"horizontal"},
"encoding":{
"x":{"field":"g","type":"nominal","title":null},
"y":{"field":"med","type":"quantitative","title":"ADAM10 gene expression"},
"color":{"field":"g","type":"nominal","scale":{"domain":["Normal","Tumor"],"range":["#2e7a1f","#e3201b"]},"legend":null}}},
{"data":{"name":"ptsA"},"mark":{"type":"circle","size":20,"opacity":1},
"encoding":{
"x":{"field":"g","type":"nominal","title":null},
"xOffset":{"field":"j","type":"quantitative","scale":{"domain":[-1,1]}},
"y":{"field":"v","type":"quantitative","title":"ADAM10 gene expression"},
"fill":{"field":"g","type":"nominal","scale":{"domain":["Normal","Tumor"],"range":["#1b6b1b","#ff1414"]},"legend":null}}},
{"data":{"values":[{"g":"Tumor","label":"P = 7.83e-15"}]},"mark":{"type":"text","font":"Liberation Sans","fontSize":16,"color":"#222222","align":"center","baseline":"middle","dx":52.6},
"encoding":{"x":{"field":"g","type":"nominal","title":null},"y":{"datum":3681,"type":"quantitative","title":"ADAM10 gene expression"},"text":{"field":"label"}}}
]
},
{
"width":369.5,"height":268,
"layer":[
{"data":{"values":[{"part":"frame"}]},"mark":{"type":"rect","fill":"transparent","stroke":"#707070","strokeWidth":1},
"encoding":{"x":{"datum":-9.32,"type":"quantitative","title":"Time (months)","scale":{"domain":[-27.88,252.05],"nice":false,"zero":false}},"x2":{"datum":252.05},"y":{"datum":-0.0427,"type":"quantitative","title":"Probability","scale":{"domain":[-0.0427,1.0307],"nice":false,"zero":false}},"y2":{"datum":1.0307}}},
{"data":{"name":"kmB"},"mark":{"type":"line","interpolate":"step-after","strokeWidth":1.1},
"encoding":{
"x":{"field":"t","type":"quantitative","title":"Time (months)","axis":{"title":"Time (months)","values":[0,50,100,150,200,250],"labelFont":"DejaVu Sans","labelFontSize":15,"labelColor":"#333333","tickSize":7,"tickColor":"#606060","labelPadding":1,"domain":false,"titleFont":"DejaVu Sans","titleFontSize":16,"titleFontWeight":"normal","titleColor":"#333333","titlePadding":6}},
"y":{"field":"s","type":"quantitative","title":"Probability","axis":{"title":"Probability","offset":-24.5,"values":[0,0.2,0.4,0.6,0.8,1],"format":".1f","labelAngle":-90,"labelAlign":"center","labelBaseline":"bottom","labelFont":"DejaVu Sans","labelFontSize":13.5,"labelColor":"#333333","tickSize":7,"tickColor":"#606060","labelPadding":6,"domain":false,"titleFont":"DejaVu Sans","titleFontSize":15,"titleFontWeight":"normal","titleColor":"#333333","titlePadding":15}},
"color":{"field":"grp","type":"nominal","scale":{"domain":["low","high"],"range":["#1a1a1a","#ff1a1a"]},"legend":null}}},
{"data":{"name":"cenB"},"mark":{"type":"point","shape":"M-1,0H1M0,-1V1","filled":false,"size":42,"strokeWidth":1,"opacity":1},
"encoding":{"x":{"field":"t","type":"quantitative","title":"Time (months)"},"y":{"field":"s","type":"quantitative","title":"Probability"},
"stroke":{"field":"grp","type":"nominal","scale":{"domain":["low","high"],"range":["#1a1a1a","#ff1a1a"]},"legend":null}}},
{"data":{"values":[{"label":"Expression"}]},"mark":{"type":"text","font":"DejaVu Sans","fontSize":16.3,"color":"#333333","align":"left","baseline":"middle"},
"encoding":{"x":{"datum":-4,"type":"quantitative","title":"Time (months)"},"y":{"datum":0.1816,"type":"quantitative","title":"Probability"},"text":{"field":"label"}}},
{"data":{"name":"kmB"},"transform":[{"filter":"datum.grp == 'low' && datum.t == 0"}],"mark":{"type":"rule","color":"#1a1a1a","strokeWidth":1},
"encoding":{"x":{"datum":-0.2,"type":"quantitative","title":"Time (months)"},"x2":{"datum":24},"y":{"datum":0.0934,"type":"quantitative","title":"Probability"}}},
{"data":{"name":"kmB"},"transform":[{"filter":"datum.grp == 'high' && datum.t == 0"}],"mark":{"type":"rule","color":"#ff1a1a","strokeWidth":1},
"encoding":{"x":{"datum":-0.2,"type":"quantitative","title":"Time (months)"},"x2":{"datum":24},"y":{"datum":0.0254,"type":"quantitative","title":"Probability"}}},
{"data":{"name":"kmB"},"transform":[{"filter":"datum.grp == 'low' && datum.t == 0"}],"mark":{"type":"text","font":"DejaVu Sans","fontSize":16.3,"color":"#333333","align":"left","baseline":"middle"},
"encoding":{"x":{"datum":35.4,"type":"quantitative","title":"Time (months)"},"y":{"datum":0.0934,"type":"quantitative","title":"Probability"},"text":{"field":"grp"}}},
{"data":{"name":"kmB"},"transform":[{"filter":"datum.grp == 'high' && datum.t == 0"}],"mark":{"type":"text","font":"DejaVu Sans","fontSize":16.3,"color":"#333333","align":"left","baseline":"middle"},
"encoding":{"x":{"datum":35.4,"type":"quantitative","title":"Time (months)"},"y":{"datum":0.0254,"type":"quantitative","title":"Probability"},"text":{"field":"grp"}}},
{"data":{"values":[{"label":"HR = 1.21 (1.06 - 1.37)"}]},"mark":{"type":"text","font":"DejaVu Sans","fontSize":16.3,"color":"#222222","align":"right","baseline":"middle"},
"encoding":{"x":{"datum":246,"type":"quantitative","title":"Time (months)"},"y":{"datum":0.9706,"type":"quantitative","title":"Probability"},"text":{"field":"label"}}},
{"data":{"values":[{"label":"logrank P = 0.0036"}]},"mark":{"type":"text","font":"DejaVu Sans","fontSize":16.3,"color":"#222222","align":"right","baseline":"middle"},
"encoding":{"x":{"datum":246,"type":"quantitative","title":"Time (months)"},"y":{"datum":0.8945,"type":"quantitative","title":"Probability"},"text":{"field":"label"}}},
{"data":{"values":[{"label":"B"}]},"mark":{"type":"text","font":"Liberation Sans","fontSize":26,"color":"#111111","align":"center","baseline":"alphabetic"},
"encoding":{"x":{"datum":-51.74,"type":"quantitative","title":"Time (months)"},"y":{"datum":0.9546,"type":"quantitative","title":"Probability"},"text":{"field":"label"}}},
{"data":{"values":[{"label":"Number at risk"}]},"mark":{"type":"text","font":"DejaVu Sans","fontSize":10.5,"color":"#222222","align":"left","baseline":"middle"},
"encoding":{"x":{"datum":-9.32,"type":"quantitative","title":"Time (months)"},"y":{"datum":-0.2642,"type":"quantitative","title":"Probability"},"text":{"field":"label"}}},
{"data":{"name":"riskB"},"transform":[{"filter":"datum.grp == 'low'"}],"mark":{"type":"text","font":"DejaVu Sans","fontSize":10.5,"color":"#222222","align":"center","baseline":"middle"},
"encoding":{"x":{"field":"t","type":"quantitative","title":"Time (months)"},"y":{"datum":-0.3111,"type":"quantitative","title":"Probability"},"text":{"field":"n"}}},
{"data":{"name":"riskB"},"transform":[{"filter":"datum.grp == 'high'"}],"mark":{"type":"text","font":"DejaVu Sans","fontSize":10.5,"color":"#ff1a1a","align":"center","baseline":"middle"},
"encoding":{"x":{"field":"t","type":"quantitative","title":"Time (months)"},"y":{"datum":-0.3539,"type":"quantitative","title":"Probability"},"text":{"field":"n"}}},
{"data":{"name":"riskB"},"transform":[{"filter":"datum.grp == 'low' && datum.t == 0"}],"mark":{"type":"text","font":"DejaVu Sans","fontSize":10.5,"color":"#222222","align":"right","baseline":"middle"},
"encoding":{"x":{"datum":-24.47,"type":"quantitative","title":"Time (months)"},"y":{"datum":-0.3111,"type":"quantitative","title":"Probability"},"text":{"field":"grp"}}},
{"data":{"name":"riskB"},"transform":[{"filter":"datum.grp == 'high' && datum.t == 0"}],"mark":{"type":"text","font":"DejaVu Sans","fontSize":10.5,"color":"#ff1a1a","align":"right","baseline":"middle"},
"encoding":{"x":{"datum":-24.47,"type":"quantitative","title":"Time (months)"},"y":{"datum":-0.3539,"type":"quantitative","title":"Probability"},"text":{"field":"grp"}}},
{"data":{"values":[{"label":"Median survival"}]},"mark":{"type":"text","font":"DejaVu Sans","fontSize":11.5,"fontWeight":"bold","color":"#111111","align":"left","baseline":"middle"},
"encoding":{"x":{"datum":-57.8,"type":"quantitative","title":"Time (months)"},"y":{"datum":-0.4513,"type":"quantitative","title":"Probability"},"text":{"field":"label"}}},
{"data":{"name":"medB"},"transform":[{"filter":"datum.median == '22.27'"}],"mark":{"type":"rect","fill":"#d5d5f7","stroke":"#7d7d7d","strokeWidth":1},
"encoding":{"x":{"datum":-57.8,"type":"quantitative","title":"Time (months)"},"x2":{"datum":104.09},"y":{"datum":-0.5314,"type":"quantitative","title":"Probability"},"y2":{"datum":-0.6007}}},
{"data":{"name":"medB"},"transform":[{"filter":"datum.median == '17.6'"}],"mark":{"type":"rect","fill":"#d5d5f7","stroke":"#7d7d7d","strokeWidth":1},
"encoding":{"x":{"datum":104.09,"type":"quantitative","title":"Time (months)"},"x2":{"datum":266.44},"y":{"datum":-0.5314,"type":"quantitative","title":"Probability"},"y2":{"datum":-0.6007}}},
{"data":{"name":"medB"},"transform":[{"filter":"datum.median == '22.27'"}],"mark":{"type":"rect","fill":"#ffffff","stroke":"#7d7d7d","strokeWidth":1},
"encoding":{"x":{"datum":-57.8,"type":"quantitative","title":"Time (months)"},"x2":{"datum":104.09},"y":{"datum":-0.6007,"type":"quantitative","title":"Probability"},"y2":{"datum":-0.6784}}},
{"data":{"name":"medB"},"transform":[{"filter":"datum.median == '17.6'"}],"mark":{"type":"rect","fill":"#ffffff","stroke":"#7d7d7d","strokeWidth":1},
"encoding":{"x":{"datum":104.09,"type":"quantitative","title":"Time (months)"},"x2":{"datum":266.44},"y":{"datum":-0.6007,"type":"quantitative","title":"Probability"},"y2":{"datum":-0.6784}}},
{"data":{"name":"medB"},"transform":[{"filter":"datum.median == '22.27'"}],"mark":{"type":"text","font":"DejaVu Sans","fontSize":11,"fontWeight":"bold","color":"#1a1a2a","align":"center","baseline":"middle"},
"encoding":{"x":{"datum":23.15,"type":"quantitative","title":"Time (months)"},"y":{"datum":-0.566,"type":"quantitative","title":"Probability"},"text":{"field":"cohort"}}},
{"data":{"name":"medB"},"transform":[{"filter":"datum.median == '17.6'"}],"mark":{"type":"text","font":"DejaVu Sans","fontSize":11,"fontWeight":"bold","color":"#1a1a2a","align":"center","baseline":"middle"},
"encoding":{"x":{"datum":185.27,"type":"quantitative","title":"Time (months)"},"y":{"datum":-0.566,"type":"quantitative","title":"Probability"},"text":{"field":"cohort"}}},
{"data":{"name":"medB"},"transform":[{"filter":"datum.median == '22.27'"}],"mark":{"type":"text","font":"DejaVu Sans","fontSize":11,"color":"#222222","align":"center","baseline":"middle"},
"encoding":{"x":{"datum":23.15,"type":"quantitative","title":"Time (months)"},"y":{"datum":-0.6395,"type":"quantitative","title":"Probability"},"text":{"field":"median"}}},
{"data":{"name":"medB"},"transform":[{"filter":"datum.median == '17.6'"}],"mark":{"type":"text","font":"DejaVu Sans","fontSize":11,"color":"#222222","align":"center","baseline":"middle"},
"encoding":{"x":{"datum":185.27,"type":"quantitative","title":"Time (months)"},"y":{"datum":-0.6395,"type":"quantitative","title":"Probability"},"text":{"field":"median"}}}
]
},
{
"width":411,"height":408,
"layer":[
{"data":{"values":[{"part":"y axis line"}]},"mark":{"type":"rule","color":"#7a7a7a","strokeWidth":1},
"encoding":{"x":{"datum":-278,"type":"quantitative","title":"Time in days","scale":{"domain":[-278,5737],"nice":false,"zero":false}},"y":{"datum":-0.0494,"type":"quantitative","title":"Survival probability","scale":{"domain":[-0.0494,1.0705],"nice":false,"zero":false}},"y2":{"datum":1.05}}},
{"data":{"name":"kmC"},"mark":{"type":"line","interpolate":"step-after","strokeWidth":1.3},
"encoding":{
"x":{"field":"d","type":"quantitative","title":"Time in days","axis":{"title":"Time in days","values":[0,1000,2000,3000,4000,5000],"format":"d","labelFont":"Liberation Sans","labelFontSize":6.8,"labelColor":"#4d4d4d","tickSize":2,"tickColor":"#555555","domainColor":"#7a7a7a","labelPadding":1,"titleFont":"Liberation Sans","titleFontSize":8.5,"titleFontWeight":"normal","titleColor":"#222222","titlePadding":1}},
"y":{"field":"s","type":"quantitative","title":"Survival probability","axis":{"title":"Survival probability","values":[0,0.25,0.5,0.75,1],"format":".2f","labelFont":"Liberation Sans","labelFontSize":6.8,"labelColor":"#4d4d4d","tickSize":2,"tickColor":"#555555","domain":false,"labelPadding":1,"titleFont":"Liberation Sans","titleFontSize":9.5,"titleFontWeight":"normal","titleColor":"#222222","titlePadding":2,"titleY":208.5}},
"color":{"field":"lvl","type":"nominal","scale":{"domain":["High expression (n=76)","Low/Medium-expression (n=227)"],"range":["#ee2a2a","#2222ee"]},"legend":{"orient":"none","legendX":280.7,"legendY":75,"title":"Expression Level","titleFont":"Liberation Sans","titleFontSize":8,"titleColor":"#a83a3f","titleFontWeight":"normal","titlePadding":1,"labelFont":"Liberation Sans","labelFontSize":7.5,"labelColor":"#a83a3f","symbolType":"stroke","symbolSize":30,"symbolStrokeWidth":1.6,"labelOffset":2,"rowPadding":1}}}},
{"data":{"name":"cenC"},"mark":{"type":"point","shape":"M-1,0H1M0,-1V1","filled":false,"size":16,"strokeWidth":1,"opacity":1},
"encoding":{"x":{"field":"d","type":"quantitative","title":"Time in days"},"y":{"field":"s","type":"quantitative","title":"Survival probability"},
"stroke":{"field":"lvl","type":"nominal","scale":{"domain":["High expression (n=76)","Low/Medium-expression (n=227)"],"range":["#ee2a2a","#2222ee"]},"legend":null}}},
{"data":{"values":[{"label":"p = 0.018"}]},"mark":{"type":"text","font":"Liberation Sans","fontSize":11,"color":"#222222","align":"left","baseline":"middle"},
"encoding":{"x":{"datum":117,"type":"quantitative","title":"Time in days"},"y":{"datum":0.2004,"type":"quantitative","title":"Survival probability"},"text":{"field":"label"}}},
{"data":{"values":[{"label":"Effect of ADAM10 expression level on OV patient survival"}]},"mark":{"type":"text","font":"Liberation Sans","fontSize":9.6,"fontWeight":"bold","color":"#111111","align":"center","baseline":"middle"},
"encoding":{"x":{"datum":2342,"type":"quantitative","title":"Time in days"},"y":{"datum":1.0733,"type":"quantitative","title":"Survival probability"},"text":{"field":"label"}}},
{"data":{"values":[{"label":"C"}]},"mark":{"type":"text","font":"Liberation Sans","fontSize":28,"color":"#111111","align":"center","baseline":"alphabetic"},
"encoding":{"x":{"datum":-680,"type":"quantitative","title":"Time in days"},"y":{"datum":1.0247,"type":"quantitative","title":"Survival probability"},"text":{"field":"label"}}}
]
}
]
}
